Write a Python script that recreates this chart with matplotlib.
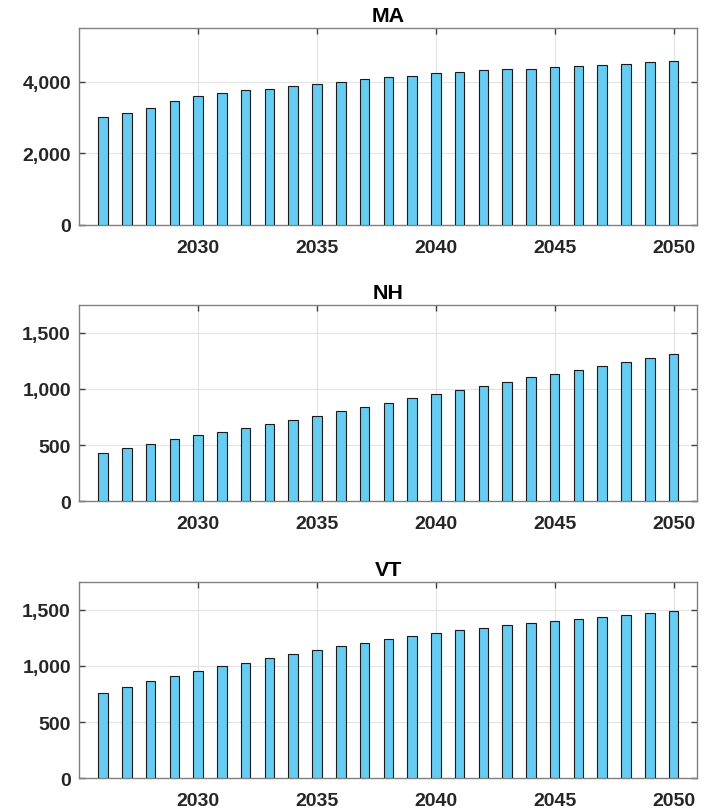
import matplotlib
matplotlib.use("Agg")
import matplotlib.pyplot as plt
from matplotlib.ticker import FuncFormatter

years = list(range(2026, 2051))
ma_values = [3014, 3126, 3274, 3470, 3609, 3693, 3758, 3805, 3879, 3935,
             4000, 4074, 4121, 4167, 4233, 4279, 4316, 4344, 4363, 4419,
             4447, 4465, 4493, 4540, 4567]
nh_values = [433, 471, 513, 554, 590, 619, 649, 685, 720, 756,
             800, 836, 877, 922, 954, 993, 1028, 1064, 1103, 1132,
             1171, 1200, 1239, 1271, 1310]
vt_values = [760, 814, 865, 909, 951, 995, 1028, 1067, 1105, 1138,
             1174, 1206, 1239, 1266, 1295, 1319, 1340, 1364, 1384, 1399,
             1417, 1438, 1453, 1468, 1485]
titles = ["MA", "NH", "VT"]
ylims = [5500, 1750, 1750]
yticks_list = [[0, 2000, 4000], [0, 500, 1000, 1500], [0, 500, 1000, 1500]]
xticks = [2030, 2035, 2040, 2045, 2050]

plt.rcParams['font.family'] = ['Liberation Sans', 'DejaVu Sans']
plt.rcParams['font.weight'] = 'bold'

fig = plt.figure(figsize=(7.06, 8.12), dpi=100)
left, width, height = 0.1123, 0.8754, 0.2422
bottoms = [0.722, 0.3814, 0.0403]
text_color = '#262626'
bar_color = '#66CCF2'

for vals, title, ylim, yt, b in zip([ma_values, nh_values, vt_values], titles, ylims, yticks_list, bottoms):
    ax = fig.add_axes([left, b, width, height])
    ax.bar(years, vals, width=0.4, color=bar_color, edgecolor='#1a1a1a', linewidth=0.8, zorder=3)
    ax.set_xlim(2025, 2051)
    ax.set_ylim(0, ylim)
    ax.set_xticks(xticks)
    ax.set_yticks(yt)
    ax.yaxis.set_major_formatter(FuncFormatter(lambda v, p: f"{int(v):,}"))
    ax.set_axisbelow(True)
    ax.grid(True, color='#e3e3e3', linewidth=0.8)
    for s in ax.spines.values():
        s.set_color('#808080')
        s.set_linewidth(1.0)
    ax.tick_params(axis='both', direction='in', length=4.5, width=1.0, color='#404040',
                   top=True, right=True, labelsize=14, labelcolor=text_color)
    ax.tick_params(axis='x', pad=10)
    ax.tick_params(axis='y', pad=6)
    for lab in ax.get_xticklabels() + ax.get_yticklabels():
        lab.set_fontweight('bold')
    ax.set_title(title, fontsize=15.4, fontweight='bold', color='black', pad=4.8)

fig.savefig("out.png", dpi=100)
